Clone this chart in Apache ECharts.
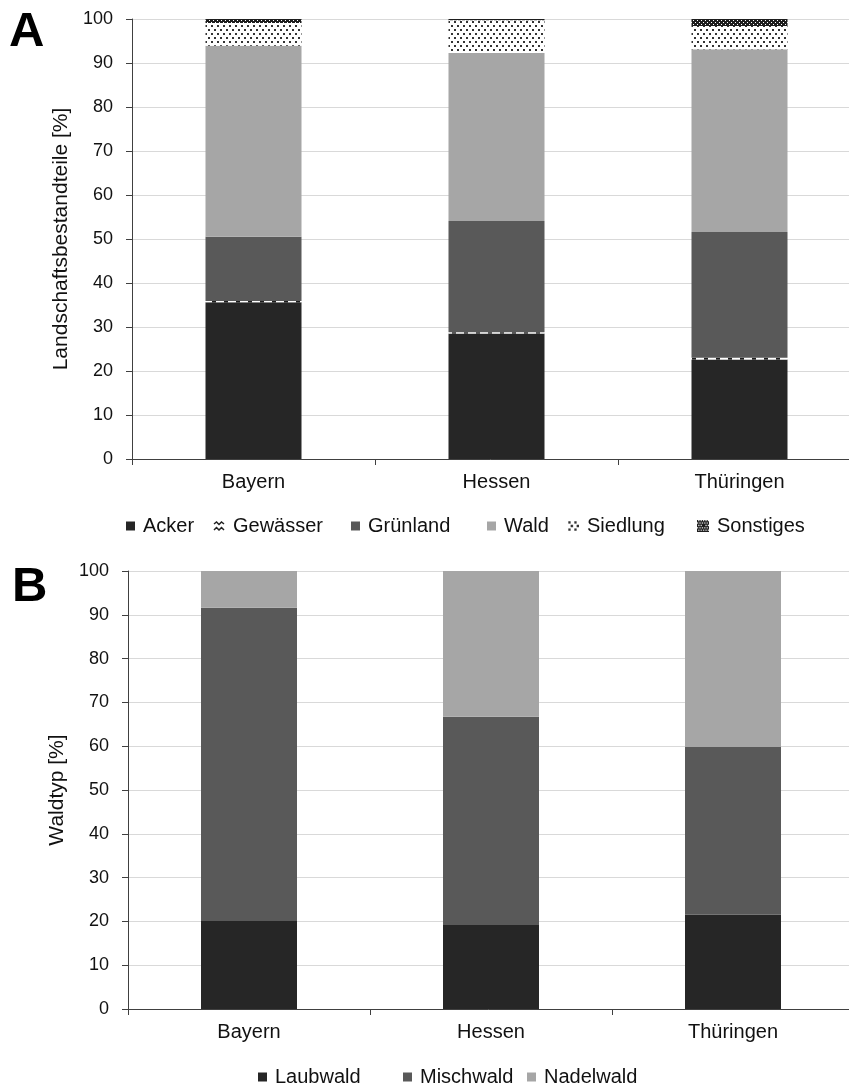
<!DOCTYPE html>
<html>
<head>
<meta charset="utf-8">
<script src="https://cdn.jsdelivr.net/npm/echarts@6/dist/echarts.min.js"></script>
<style>
html,body{margin:0;padding:0;background:#fff;}
#c{width:849px;height:1086px;}
</style>
</head>
<body>
<div id="c"></div>
<script>
// ---- Data ----
var categories = ['Bayern', 'Hessen', 'Thüringen'];
var yTicksMin = 0, yTicksMax = 100, yTickStep = 10;

// Panel A: Landschaftsbestandteile [%]
var acker     = [35.6, 28.5, 22.6];
var gewaesser = [0.3, 0.3, 0.4];
var gruenland = [14.6, 25.3, 28.6];
var wald      = [43.4, 38.2, 41.5];
var siedlung  = [5.2, 7.4, 5.3];
var sonstiges = [0.9, 0.3, 1.6];

// Panel B: Waldtyp [%]
var laubwald  = [20.1, 19.2, 21.5];
var mischwald = [71.5, 47.5, 38.3];
var nadelwald = [8.4, 33.3, 40.2];

// ---- Patterns ----
function mk(w, h, draw) {
  var c = document.createElement('canvas'); c.width = w; c.height = h;
  draw(c.getContext('2d')); return c;
}
var dotTile = mk(6, 8, function (g) {
  g.fillStyle = '#fff'; g.fillRect(0, 0, 6, 8);
  g.fillStyle = '#333'; g.fillRect(1, 1, 2, 2); g.fillRect(4, 5, 2, 2);
});
var hatchTile = mk(4, 4, function (g) {
  g.fillStyle = '#1e1e1e'; g.fillRect(0, 0, 4, 4);
  g.fillStyle = '#fff'; g.fillRect(1, 0, 1, 1); g.fillRect(3, 2, 1, 1);
});
var dashTile = mk(12, 2, function (g) {
  g.fillStyle = '#1e1e1e'; g.fillRect(0, 0, 12, 2);
  g.fillStyle = '#ffffff'; g.fillRect(0, 0, 8, 2);
});
var dotIcon = mk(10, 10, function (g) {
  g.fillStyle = '#fff'; g.fillRect(0, 0, 10, 10);
  g.fillStyle = '#333';
  [[1,1],[6,1],[3,4],[8,4],[1,7],[6,7]].forEach(function(p){ g.fillRect(p[0], p[1], 2, 2); });
});
var hatchIcon = mk(10, 10, function (g) {
  g.fillStyle = '#1e1e1e'; g.fillRect(0, 0, 10, 10);
  g.fillStyle = '#fff';
  for (var y = 0; y < 10; y += 2) for (var x = (y % 4 === 0 ? 1 : 0); x < 10; x += 2) g.fillRect(x, y, 1, 1);
  g.fillStyle = '#1e1e1e'; g.fillRect(4, 4, 2, 2);
});
var zigIcon = mk(12, 10, function (g) {
  g.fillStyle = '#fff'; g.fillRect(0, 0, 12, 10);
  g.strokeStyle = '#222'; g.lineWidth = 1.5;
  g.beginPath(); g.moveTo(1, 3); g.lineTo(3.5, 1); g.lineTo(6, 3.5); g.lineTo(8.5, 1); g.lineTo(11, 3); g.stroke();
  g.beginPath(); g.moveTo(1, 9); g.lineTo(3.5, 6.5); g.lineTo(6, 9); g.lineTo(8.5, 6.5); g.lineTo(11, 9); g.stroke();
});

var FONT = 'Liberation Sans, Arial, sans-serif';
var C_DARK = '#262626', C_MID = '#595959', C_LIGHT = '#a6a6a6';

var chart = echarts.init(document.getElementById('c'));

function yAxis(grid, name) {
  return {
    type: 'value', gridIndex: grid, min: yTicksMin, max: yTicksMax, interval: yTickStep,
    name: name, nameLocation: 'middle', nameGap: 59, nameRotate: 90,
    nameTextStyle: { fontFamily: FONT, fontSize: 21, color: '#111' },
    axisLine: { show: true, lineStyle: { color: '#404040', width: 1 } },
    axisTick: { show: true, length: 6, lineStyle: { color: '#404040' } },
    axisLabel: { fontFamily: FONT, fontSize: 18, color: '#111', margin: 19 },
    splitLine: { show: true, lineStyle: { color: '#d9d9d9', width: 1 } }
  };
}
function xAxis(grid) {
  return {
    type: 'category', gridIndex: grid, data: categories,
    axisLine: { show: true, lineStyle: { color: '#404040', width: 1 } },
    axisTick: { show: true, length: 6, lineStyle: { color: '#404040' } },
    axisLabel: { fontFamily: FONT, fontSize: 20, color: '#111', margin: 13 }
  };
}
function bar(name, data, color, xi, yi, stack) {
  return {
    name: name, type: 'bar', stack: stack, xAxisIndex: xi, yAxisIndex: yi,
    data: data, barWidth: 96, itemStyle: { color: color }, animation: false,
    emphasis: { disabled: true }
  };
}
function lg(name, left, top, icon, size) {
  return {
    data: [{ name: name }], left: left, top: top, itemWidth: size || 9, itemHeight: size || 9,
    icon: icon || 'rect', padding: 0, itemGap: 0,
    textStyle: { fontFamily: FONT, fontSize: 20, color: '#111', lineHeight: 20, padding: [0, 0, 0, 3] }
  };
}

var option = {
  animation: false,
  backgroundColor: '#fff',
  graphic: [
    { type: 'text', left: 9, top: 8, style: { text: 'A', font: 'bold 49px ' + FONT, fill: '#000' } },
    { type: 'text', left: 12, top: 563, style: { text: 'B', font: 'bold 49px ' + FONT, fill: '#000' } }
  ],
  grid: [
    { left: 132, width: 729, top: 19, height: 440, outerBoundsMode: 'none', containLabel: false },
    { left: 128, width: 726, top: 571, height: 438, outerBoundsMode: 'none', containLabel: false }
  ],
  xAxis: [xAxis(0), xAxis(1)],
  yAxis: [yAxis(0, 'Landschaftsbestandteile [%]'), yAxis(1, 'Waldtyp [%]')],
  legend: [
    lg('Acker', 126, 516),
    lg('Gewässer', 213, 516, 'image://' + zigIcon.toDataURL(), 12),
    lg('Grünland', 351, 516),
    lg('Wald', 487, 516),
    lg('Siedlung', 567, 516, 'image://' + dotIcon.toDataURL(), 12),
    lg('Sonstiges', 697, 516, 'image://' + hatchIcon.toDataURL(), 12),
    lg('Laubwald', 258, 1067),
    lg('Mischwald', 403, 1067),
    lg('Nadelwald', 527, 1067)
  ],
  series: [
    bar('Acker', acker, C_DARK, 0, 0, 'a'),
    bar('Gewässer', gewaesser, { image: dashTile, repeat: 'repeat' }, 0, 0, 'a'),
    bar('Grünland', gruenland, C_MID, 0, 0, 'a'),
    bar('Wald', wald, C_LIGHT, 0, 0, 'a'),
    bar('Siedlung', siedlung, { image: dotTile, repeat: 'repeat' }, 0, 0, 'a'),
    bar('Sonstiges', sonstiges, { image: hatchTile, repeat: 'repeat' }, 0, 0, 'a'),
    bar('Laubwald', laubwald, C_DARK, 1, 1, 'b'),
    bar('Mischwald', mischwald, C_MID, 1, 1, 'b'),
    bar('Nadelwald', nadelwald, C_LIGHT, 1, 1, 'b')
  ]
};
chart.setOption(option);
</script>
</body>
</html>
